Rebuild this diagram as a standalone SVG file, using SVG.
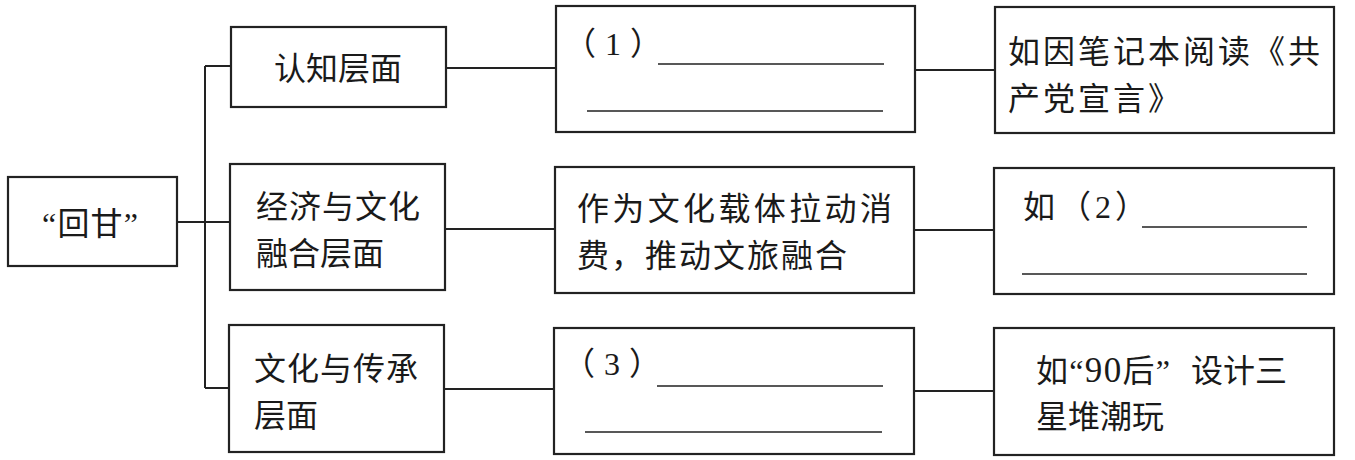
<svg xmlns="http://www.w3.org/2000/svg" width="1355" height="460" viewBox="0 0 1355 460">
<style>
.box{fill:#fff;stroke:#222;stroke-width:2.2}
.ln{fill:none;stroke:#222;stroke-width:2}
.bl{fill:none;stroke:#222;stroke-width:1.6}
text{font-family:"Liberation Serif","Noto Sans CJK SC",serif;font-size:32px;fill:#1a1a1a}
</style>
<rect width="1355" height="460" fill="#fff"/>
<g id="connectors">
<path class="ln" d="M177,222 H230 M205,66 V388 M205,66 H231 M205,388 H229"/>
<path class="ln" d="M446,68 H556 M445,229 H555 M444,389 H554"/>
<path class="ln" d="M915,70 H995 M914,230 H994 M914,391 H994"/>
</g>
<g id="root">
<rect class="box" x="8" y="177" width="169" height="89"/>
<text x="90" y="235" text-anchor="middle" textLength="96" lengthAdjust="spacing">“回甘”</text>
</g>
<g id="l1">
<rect class="box" x="231" y="27" width="215" height="80"/>
<text x="338" y="80" text-anchor="middle">认知层面</text>
</g>
<g id="l2">
<rect class="box" x="230" y="164" width="215" height="126"/>
<text x="256" y="218" textLength="164" lengthAdjust="spacing">经济与文化</text>
<text x="256" y="265">融合层面</text>
</g>
<g id="l3">
<rect class="box" x="229" y="325" width="215" height="127"/>
<text x="254" y="380" textLength="164" lengthAdjust="spacing">文化与传承</text>
<text x="254" y="427">层面</text>
</g>
<g id="m1">
<rect class="box" x="556" y="6" width="359" height="126"/>
<text x="564" y="55" textLength="98" lengthAdjust="spacing">（1）</text>
<path class="bl" d="M658,64 H884 M587,111 H883"/>
</g>
<g id="m2">
<rect class="box" x="555" y="167" width="359" height="126"/>
<text x="577" y="220" textLength="315" lengthAdjust="spacing">作为文化载体拉动消</text>
<text x="577" y="267" textLength="270" lengthAdjust="spacing">费，推动文旅融合</text>
</g>
<g id="m3">
<rect class="box" x="554" y="328" width="360" height="126"/>
<text x="563" y="375" textLength="98" lengthAdjust="spacing">（3）</text>
<path class="bl" d="M657,386 H883 M585,432 H882"/>
</g>
<g id="r1">
<rect class="box" x="995" y="7" width="339" height="126"/>
<text x="1008" y="63" textLength="312" lengthAdjust="spacing">如因笔记本阅读《共</text>
<text x="1008" y="110" textLength="172" lengthAdjust="spacing">产党宣言》</text>
</g>
<g id="r2">
<rect class="box" x="994" y="168" width="340" height="126"/>
<text x="1023" y="218" textLength="124" lengthAdjust="spacing">如（2）</text>
<path class="bl" d="M1142,227 H1307 M1022,274 H1307"/>
</g>
<g id="r3">
<rect class="box" x="994" y="328" width="340" height="127"/>
<text x="1036" y="382" textLength="134" lengthAdjust="spacing">如“<tspan font-size="35">90</tspan>后”</text>
<text x="1191" y="382">设计三</text>
<text x="1036" y="428">星堆潮玩</text>
</g>
</svg>
